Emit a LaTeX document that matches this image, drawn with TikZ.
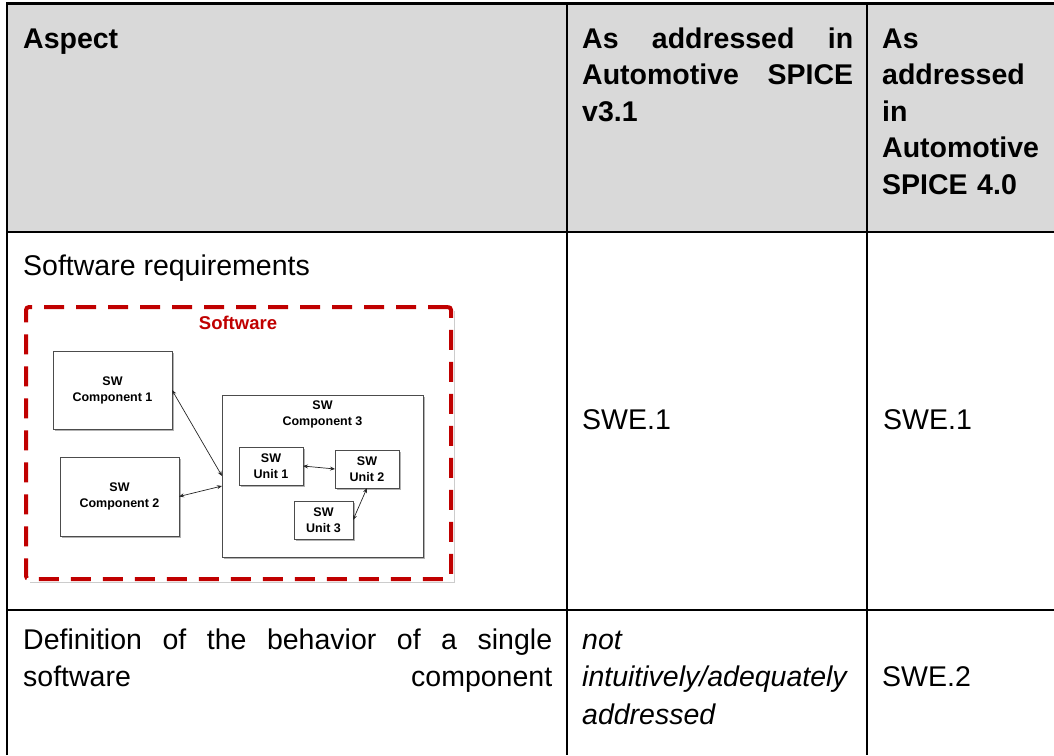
\documentclass[tikz,border=0pt]{standalone}
\usepackage{fontspec}
\setmainfont{Liberation Sans}
\usetikzlibrary{arrows.meta,shadows,calc}
\definecolor{hdr}{HTML}{D9D9D9}
\definecolor{swred}{HTML}{C00000}
\begin{document}
\begin{tikzpicture}[x=1pt,y=-1pt,
  grid/.style={line width=2.7pt,black},
  big/.style={font=\fontsize{28.5}{36.5}\selectfont, inner sep=0pt, anchor=base west},
  bigb/.style={big, font=\fontsize{28.5}{36.5}\selectfont\bfseries},
  comp/.style={draw=black!70, fill=white, line width=0.9pt, outer sep=0pt,
    drop shadow={shadow xshift=2pt,shadow yshift=-2pt,fill=black!30,opacity=1},
    inner sep=0pt, align=center, font=\fontsize{12.5}{16}\selectfont\bfseries},
  lbl/.style={inner sep=0pt, align=center, font=\fontsize{12.5}{16}\selectfont\bfseries},
  conn/.style={<->, >={Stealth[length=5pt,width=4pt]}, line width=0.7pt, black!85}
]
\useasboundingbox (0,0) rectangle (1054,755);

% table
\fill[hdr] (7,3.5) rectangle (1054,232);
\draw[grid] (7,755) -- (7,3.5) -- (1054,3.5);
\draw[grid] (7,232) -- (1054,232);
\draw[grid] (7,610) -- (1054,610);
\draw[grid] (567,3.5) -- (567,755);
\draw[grid] (867,3.5) -- (867,755);

% header
\node[bigb] (h1) at (23,48) {Aspect};
\node[bigb, text width=271pt, align=left] (h2) at (582,48)
  {\makebox[271pt][s]{As\hfill addressed\hfill in}\\\makebox[271pt][s]{Automotive\hfill SPICE}\\v3.1};
\node[bigb, text width=170pt, align=left] (h3) at (882,48)
  {As\\addressed\\in\\Automotive\\SPICE 4.0};

% row 2
\node[big] (r2a) at (23,275) {Software requirements};
\node[big] (r2b) at (582,429) {SWE.1};
\node[big] (r2c) at (883,429) {SWE.1};

% row 3
\node[big, text width=529pt, align=left, font=\fontsize{28.5}{37.5}\selectfont] (r3a) at (23,649)
  {\makebox[529pt][s]{Definition\hfill of\hfill the\hfill behavior\hfill of\hfill a\hfill single}\\\makebox[529pt][s]{software\hfill component}};
\node[big, text width=271pt, align=left, font=\fontsize{28.5}{37.5}\selectfont\itshape] (r3b) at (582,649)
  {not\\intuitively/adequately\\addressed};
\node[big] (r3c) at (882,686.5) {SWE.2};

% diagram
\draw[black!20, line width=1.5pt] (30,582.5) -- (454.5,582.5) -- (454.5,311);
\node[draw=swred, line width=4pt, dash pattern=on 20pt off 12pt, rounded corners=3pt,
  minimum width=425pt, minimum height=272pt, inner sep=0pt] (sw) at (238.5,443) {};
\node[font=\fontsize{18.5}{20}\selectfont\bfseries, text=swred, anchor=base, inner sep=0pt] (swt) at (238,329) {Software};

\node[comp, minimum width=119pt, minimum height=78pt] (c1) at (112.5,390) {SW\\Component 1};
\node[comp, minimum width=119pt, minimum height=79pt] (c2) at (119.5,496.5) {SW\\Component 2};
\node[comp, minimum width=201pt, minimum height=162pt] (c3) at (322.5,476) {};
\node[lbl] (c3t) at (322.5,414) {SW\\Component 3};
\node[comp, minimum width=64pt, minimum height=38pt] (u1) at (271,466) {SW\\Unit 1};
\node[comp, minimum width=64pt, minimum height=38pt] (u2) at (367,469) {SW\\Unit 2};
\node[comp, minimum width=59pt, minimum height=38pt] (u3) at (323.5,520) {SW\\Unit 3};

\draw[conn] (c1.east) -- (c3.west);
\draw[conn] (c2.east) -- ($(c3.west)+(0,10)$);
\draw[conn] (u1.east) -- (u2.west);
\draw[conn] (u2.south) -- (u3.east);
\end{tikzpicture}
\end{document}
